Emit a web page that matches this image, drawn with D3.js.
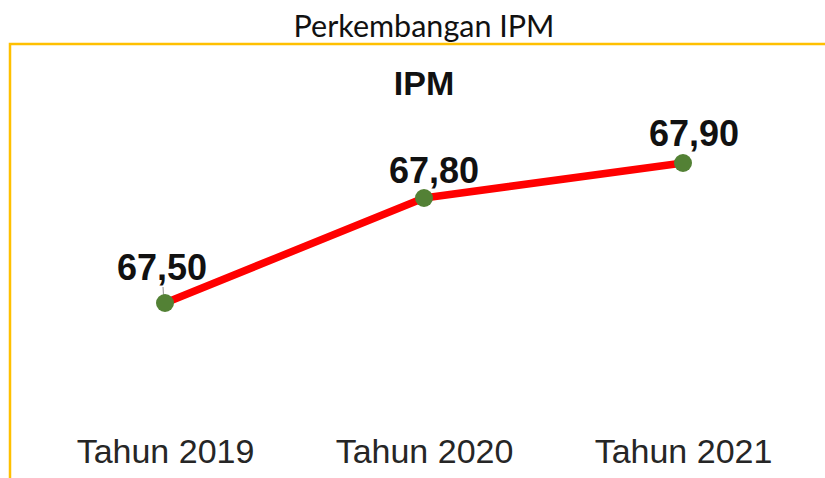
<!DOCTYPE html>
<html>
<head>
<meta charset="utf-8">
<script src="https://cdn.jsdelivr.net/npm/d3@7"></script>
<style>
  html, body { margin: 0; padding: 0; background: #fff; }
  svg { display: block; }
</style>
</head>
<body>
<script>
// ---- data ----
const categories = ["Tahun 2019", "Tahun 2020", "Tahun 2021"];
const ipmValues = [67.50, 67.80, 67.90];
const valueLabels = ["67,50", "67,80", "67,90"];
const pageTitle = "Perkembangan IPM";
const chartTitle = "IPM";

// ---- layout ----
const W = 825, H = 478;
const labelNudge = [[-3, -23], [10, -15], [11, -17]];

const svg = d3.select("body").append("svg")
  .attr("width", W).attr("height", H);

svg.append("rect").attr("width", W).attr("height", H).attr("fill", "#fff");

// page title
svg.append("text")
  .attr("x", 424).attr("y", 37)
  .attr("text-anchor", "middle")
  .attr("font-family", "Lato, 'Liberation Sans', sans-serif")
  .attr("font-size", 30.5)
  .attr("fill", "#111")
  .text(pageTitle);

// gold frame (top and left edges)
svg.append("path")
  .attr("d", "M10,480 L10,44 L830,44")
  .attr("fill", "none")
  .attr("stroke", "#FFC000")
  .attr("stroke-width", 2.5);

// chart title
svg.append("text")
  .attr("x", 424).attr("y", 95)
  .attr("text-anchor", "middle")
  .attr("font-family", "'Liberation Sans', Arial, sans-serif")
  .attr("font-weight", "bold")
  .attr("font-size", 34)
  .attr("fill", "#111")
  .text(chartTitle);

// scales
const x = d3.scalePoint().domain(categories).range([165, 683]);
const y = d3.scaleLinear().domain([67.3, 68.0]).range([373, 128]);

// x axis (labels only)
const xAxis = d3.axisBottom(x).tickSize(0).tickPadding(0);
const gx = svg.append("g").attr("transform", "translate(0,438)").call(xAxis);
gx.select(".domain").remove();
gx.selectAll("text")
  .attr("font-family", "'Liberation Sans', Arial, sans-serif")
  .attr("font-size", 34)
  .attr("fill", "#262626")
  .attr("dy", "0.74em");

// line
const line = d3.line()
  .x((d, i) => x(categories[i]))
  .y(d => y(d));

svg.append("path")
  .datum(ipmValues)
  .attr("d", line)
  .attr("fill", "none")
  .attr("stroke", "#FF0000")
  .attr("stroke-width", 7.5)
  .attr("stroke-linejoin", "round");

// leader line for first label
svg.append("line")
  .attr("x1", x(categories[0]) - 2).attr("y1", y(ipmValues[0]) - 16)
  .attr("x2", x(categories[0]) - 1).attr("y2", y(ipmValues[0]) - 2)
  .attr("stroke", "#a0a0a0").attr("stroke-width", 1.2);

// points
svg.selectAll("circle.pt")
  .data(ipmValues)
  .join("circle")
  .attr("class", "pt")
  .attr("cx", (d, i) => x(categories[i]))
  .attr("cy", d => y(d))
  .attr("r", 9)
  .attr("fill", "#538135");

// value labels
svg.selectAll("text.val")
  .data(ipmValues)
  .join("text")
  .attr("class", "val")
  .attr("x", (d, i) => x(categories[i]) + labelNudge[i][0])
  .attr("y", (d, i) => y(d) + labelNudge[i][1])
  .attr("text-anchor", "middle")
  .attr("font-family", "'Liberation Sans', Arial, sans-serif")
  .attr("font-weight", "bold")
  .attr("font-size", 36)
  .attr("fill", "#111")
  .text((d, i) => valueLabels[i]);
</script>
</body>
</html>
